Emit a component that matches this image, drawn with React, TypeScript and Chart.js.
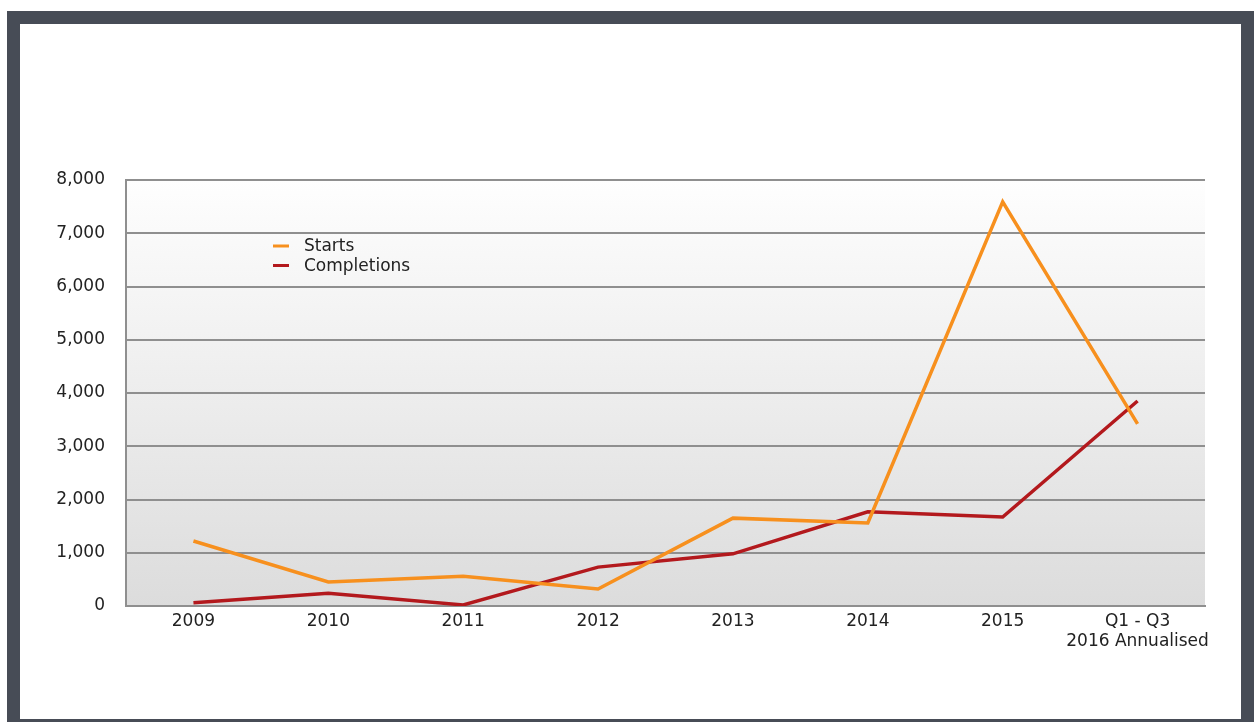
import React, { useEffect, useRef } from "react";
import { Chart, registerables } from "chart.js";

Chart.register(...registerables);

const categories: (string | string[])[] = ["2009", "2010", "2011", "2012", "2013", "2014", "2015", ["Q1 - Q3", "2016 Annualised"]];
const starts = [1220, 450, 560, 320, 1650, 1560, 7590, 3420];
const completions = [60, 240, 20, 730, 980, 1770, 1670, 3850];
const yTicks = [0, 1000, 2000, 3000, 4000, 5000, 6000, 7000, 8000];

const FONT = "'DejaVu Sans', sans-serif";
const ORANGE = "#f7901e";
const RED = "#b3191d";

const bgPlugin = {
  id: "bgGradient",
  beforeDraw(chart: any) {
    const { ctx, chartArea } = chart;
    if (!chartArea) return;
    const g = ctx.createLinearGradient(0, chartArea.top, 0, chartArea.bottom);
    g.addColorStop(0, "#fefefe");
    g.addColorStop(1, "#dcdcdc");
    ctx.save();
    ctx.fillStyle = g;
    ctx.fillRect(chartArea.left, chartArea.top, chartArea.right - chartArea.left, chartArea.bottom - chartArea.top);
    ctx.restore();
  },
};

const legendPlugin = {
  id: "insideLegend",
  afterDraw(chart: any) {
    const { ctx } = chart;
    const items = chart.data.datasets.map((d: any) => ({ label: d.label, color: d.borderColor }));
    ctx.save();
    ctx.font = `17px ${FONT}`;
    ctx.textBaseline = "middle";
    items.forEach((it: any, i: number) => {
      const y = 246 + i * 19.5;
      ctx.strokeStyle = it.color;
      ctx.lineWidth = 3;
      ctx.beginPath();
      ctx.moveTo(273, y);
      ctx.lineTo(289, y);
      ctx.stroke();
      ctx.fillStyle = "#222222";
      ctx.fillText(it.label, 304, y + 1);
    });
    ctx.restore();
  },
};

export default function App() {
  const ref = useRef<HTMLCanvasElement>(null);
  useEffect(() => {
    if (!ref.current) return;
    const chart = new Chart(ref.current, {
      type: "line",
      data: {
        labels: categories as any,
        datasets: [
          { label: "Starts", data: starts, borderColor: ORANGE, backgroundColor: ORANGE, borderWidth: 3.5, pointRadius: 0, tension: 0 },
          { label: "Completions", data: completions, borderColor: RED, backgroundColor: RED, borderWidth: 3.5, pointRadius: 0, tension: 0 },
        ],
      },
      options: {
        animation: false,
        responsive: false,
        layout: { padding: { top: 180, right: 51, left: 0, bottom: 0 } },
        plugins: { legend: { display: false }, tooltip: { enabled: false } },
        scales: {
          x: {
            offset: true,
            grid: { display: false, drawTicks: false },
            border: { display: true, color: "#8f8f8f", width: 2 },
            ticks: { color: "#222222", font: { family: FONT, size: 17 }, padding: 5, maxRotation: 0, autoSkip: false },
            afterFit: (s: any) => { s.height = 116; },
          },
          y: {
            min: 0,
            max: 8000,
            afterBuildTicks: (s: any) => { s.ticks = yTicks.map((v) => ({ value: v })); },
            grid: { color: "#8f8f8f", lineWidth: 2, drawTicks: false },
            border: { display: true, color: "#8f8f8f", width: 2 },
            ticks: {
              color: "#222222",
              font: { family: FONT, size: 17 },
              padding: 21,
              callback: (v: any) => Number(v).toLocaleString("en-US"),
            },
            afterFit: (s: any) => { s.width = 126; },
          },
        },
      },
      plugins: [bgPlugin, legendPlugin],
    });
    return () => chart.destroy();
  }, []);

  return (
    <div style={{ position: "fixed", left: 0, top: 0, width: 1256, height: 722, background: "#fff", overflow: "hidden" }}>
      <div style={{ position: "absolute", left: 7, top: 11, width: 1247, height: 721, boxSizing: "border-box", border: "13px solid #474c56", background: "#fff" }} />
      <canvas ref={ref} width={1256} height={722} style={{ position: "absolute", left: 0, top: 0 }} />
    </div>
  );
}
